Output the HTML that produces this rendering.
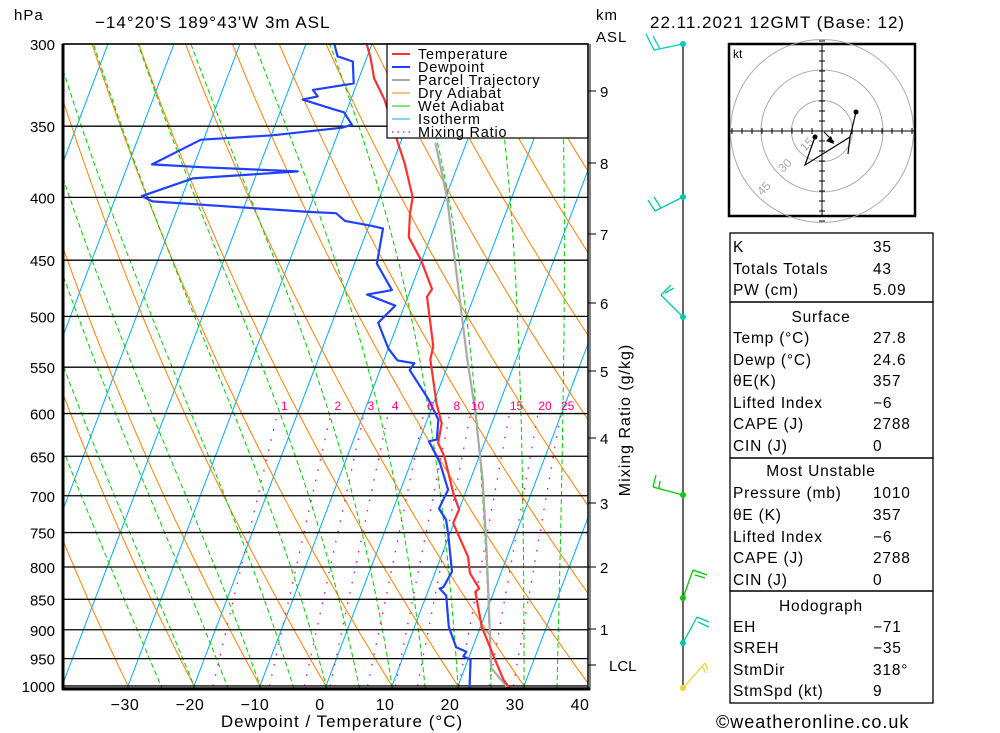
<!DOCTYPE html>
<html><head><meta charset="utf-8"><style>
html,body{margin:0;padding:0;background:#fff;}
svg{display:block;font-family:"Liberation Sans",sans-serif;}
</style></head><body>
<svg id="chart" width="1000" height="733" viewBox="0 0 1000 733" xmlns="http://www.w3.org/2000/svg">
<defs><clipPath id="plotclip"><rect x="63" y="44" width="525" height="644"/></clipPath></defs>
<rect x="0" y="0" width="1000" height="733" fill="#fff"/>
<g id="bg" clip-path="url(#plotclip)"></g>
<g id="isobars"></g>
<g id="profiles" clip-path="url(#plotclip)"></g>
<g id="legend">
<rect x="387" y="44" width="201" height="94" fill="#fff" stroke="#000" stroke-width="1.2"/>
<g font-size="14.5" fill="#000" letter-spacing="0.8">
<line x1="392" y1="54" x2="410" y2="54" stroke="#ff3030" stroke-width="2"/><text x="418" y="59">Temperature</text>
<line x1="392" y1="67" x2="410" y2="67" stroke="#2040ff" stroke-width="2"/><text x="418" y="72">Dewpoint</text>
<line x1="392" y1="80" x2="410" y2="80" stroke="#aaa" stroke-width="2"/><text x="418" y="85">Parcel Trajectory</text>
<line x1="392" y1="93" x2="410" y2="93" stroke="#ff8000" stroke-width="1"/><text x="418" y="98">Dry Adiabat</text>
<line x1="392" y1="106" x2="410" y2="106" stroke="#00cc00" stroke-width="1"/><text x="418" y="111">Wet Adiabat</text>
<line x1="392" y1="119" x2="410" y2="119" stroke="#00aaff" stroke-width="1"/><text x="418" y="124">Isotherm</text>
<line x1="392" y1="132" x2="410" y2="132" stroke="#ff0080" stroke-width="1.2" stroke-dasharray="1.5,4"/><text x="418" y="137">Mixing Ratio</text>
</g></g>
<rect x="63" y="44" width="525" height="644" fill="none" stroke="#000" stroke-width="1.5"/>
<line x1="63" y1="44" x2="63" y2="690" stroke="#000" stroke-width="3"/>
<line x1="62" y1="689" x2="590" y2="689" stroke="#000" stroke-width="3"/>
<g font-size="17" fill="#000" letter-spacing="1">
<text x="14" y="20" font-size="15">hPa</text>
<text x="95" y="28">−14°20'S  189°43'W  3m  ASL</text>
<text x="650" y="28">22.11.2021  12GMT  (Base: 12)</text>
<text x="596" y="20" font-size="15">km</text>
<text x="596" y="42" font-size="15">ASL</text>
<text x="342" y="727" text-anchor="middle">Dewpoint / Temperature (°C)</text>
<text transform="translate(630,420) rotate(-90)" text-anchor="middle" font-size="16">Mixing Ratio (g/kg)</text>
<text x="716" y="728" font-size="18">©weatheronline.co.uk</text>
</g>
<g id="xticks" font-size="16" fill="#000" text-anchor="middle" letter-spacing="0.5"></g>
<g id="kmaxis" font-size="15" fill="#000"></g>
<g id="winds"><line x1="683" y1="44" x2="683" y2="690" stroke="#000" stroke-width="1.2"/></g>
<g id="hodo">
<rect x="729" y="44" width="186" height="172" fill="#fff" stroke="#000" stroke-width="2.5"/>
<text x="733" y="58" font-size="12" fill="#000">kt</text>
</g>
<g id="table" font-size="15.5" fill="#000" letter-spacing="0.8"></g>
</svg>
<script>
const NS="http://www.w3.org/2000/svg";
// ---- data ----
const isobarLevels=[300,350,400,450,500,550,600,650,700,750,800,850,900,950,1000];
const tempTicks=[-30,-20,-10,0,10,20,30,40];
const tempP=[1005,988,946,895,838,833,809,785,737,718,698,650,634,611,589,542,529,482,475,450,431,412,400,375,361,333,320,308,300];
const tempT=[28.0,26.5,23.7,20.2,17.2,17.6,15.3,14.1,9.9,10.0,8.3,4.7,3.0,2.4,0.5,-3.0,-3.3,-7.1,-6.8,-10.1,-13.3,-14.5,-15.0,-18.2,-20.4,-24.9,-27.7,-29.4,-30.8];
const dewP=[1005,1005,952,946,938,930,895,844,833,831,807,751,732,717,692,658,632,630,607,584,553,546,543,542,531,506,490,480,476,453,424,422,418,412,411,403,399,386,381,378,376,359,356,351,349,341,339,333,331,327,323,310,307,300];
const dewT=[24.6,21.9,20.4,19.1,19.3,17.5,15.2,13.0,11.6,12.1,12.5,9.7,8.6,6.9,7.2,4.4,1.5,2.6,1.7,-1.0,-5.5,-5.2,-7.9,-8.1,-10.0,-13.0,-11.4,-16.3,-12.8,-16.6,-17.7,-19.5,-23.9,-25.7,-30.0,-54.2,-56.1,-49.4,-33.9,-48.7,-56.4,-50.4,-39.8,-29.7,-28.4,-30.3,-32.1,-37.3,-35.2,-36.3,-30.5,-31.9,-34.5,-35.7];
const parcelP=[1005,967,906,775,680,596,542,400,361];
const parcelT=[27.8,24.0,21.8,16.5,11.9,6.7,2.6,-9.8,-14.7];
const mixRatios=[1,2,3,4,6,8,10,15,20,25];
const kmLevels=[1,2,3,4,5,6,7,8,9];
const kmY=[629,567,503,438,371,303,234,163,91];
// ---- axes ----
function yP(p){return 44+Math.log(p/300)*533.2;}
function xT(T,p){return 326+6.6*T+0.38*(686-yP(p));}
function el(tag,attrs,parent){const e=document.createElementNS(NS,tag);for(const k in attrs)e.setAttribute(k,attrs[k]);parent.appendChild(e);return e;}
function pts(ps,ts){return ps.map((p,i)=>xT(ts[i],p).toFixed(1)+","+yP(p).toFixed(1)).join(" ");}
const bg=document.getElementById('bg');
// isotherms
for(let T=-120;T<=40;T+=10){
  const l=el('line',{x1:xT(T,1050),y1:yP(1050),x2:xT(T,280),y2:yP(280),stroke:'#00aaff','stroke-width':1},bg);
  
  
}
// dry adiabats
const pgrid=[];for(let p=1050;p>=280;p-=10)pgrid.push(p);
for(let t0=-80;t0<=180;t0+=10){
  const th=t0+273.15;
  const ts=pgrid.map(p=>th*Math.pow(p/1000,0.2857)-273.15);
  const l=el('polyline',{points:pts(pgrid,ts),fill:'none',stroke:'#ff8000','stroke-width':1},bg);
  
  
}
// wet adiabats
function moist(T,p){const tc=T-273.15;const es=6.112*Math.exp(17.67*tc/(tc+243.5));const rs=0.622*es/(p-es);
 return (287*T+2.5e6*rs)/(p*(1005+2.5e6*2.5e6*rs*0.622/(287*T*T)));}
for(let tw=-25;tw<=35;tw+=5){
  let T=tw+273.15;const ps=[],ts=[];
  for(let p=1050;p>=1000;p+=0){break;}
  // integrate down to 1050 first
  let Tb=T;for(let p=1000;p<1050;p+=2){Tb+=moist(Tb,p)*2;}
  T=Tb;
  for(let p=1050;p>=280;p-=2){ps.push(p);ts.push(T-273.15);T-=moist(T,p)*2;}
  const l=el('polyline',{points:pts(ps,ts),fill:'none',stroke:'#00cc00','stroke-width':1,'stroke-dasharray':'5,3'},bg);
  
  
}
// mixing ratio
function tw_(w,p){const e=w*p/(622+w);const a=Math.log(e/6.112);return 243.5*a/(17.67-a);}
mixRatios.forEach(w=>{
  const ps=[1000,600];const ts=ps.map(p=>tw_(w,p));
  const l=el('polyline',{points:pts(ps,ts),fill:'none',stroke:'#ff0080','stroke-width':1.3,'stroke-dasharray':'1.5,9'},bg);
  
  
  const t=el('text',{x:xT(tw_(w,600),600)+7,y:410,'font-size':12,fill:'#ff0080','text-anchor':'middle'},document.getElementById('svgroot')||document.getElementById('chart'));
  t.textContent=w;
  
  
});
// isobars
const ib=document.getElementById('isobars');
isobarLevels.forEach(p=>{
  const l=el('line',{x1:63,y1:yP(p),x2:588,y2:yP(p),stroke:'#000','stroke-width':1.3},ib);
  
  
  const t=el('text',{x:55,y:yP(p)+6,'font-size':15,'text-anchor':'end',fill:'#000'},ib);
  t.textContent=p;
  
  
});
// x ticks
const xt=document.getElementById('xticks');
tempTicks.forEach(T=>{
  const t=el('text',{x:320+T*6.5,y:710},xt);
  t.textContent=T<0?'−'+(-T):T;
  
  
});
// km axis
const ka=document.getElementById('kmaxis');
el('line',{x1:590,y1:44,x2:590,y2:690,stroke:'#000','stroke-width':1},ka);
kmLevels.forEach((k,i)=>{
  el('line',{x1:588,y1:kmY[i],x2:596,y2:kmY[i],stroke:'#000','stroke-width':1},ka);
  const t=el('text',{x:600,y:kmY[i]+6},ka);t.textContent=k;
  
  
});
el('line',{x1:588,y1:665,x2:596,y2:665,stroke:'#000','stroke-width':1},ka);
{const t=el('text',{x:609,y:671},ka);t.textContent='LCL';}
// profiles
const pr=document.getElementById('profiles');
[[parcelP,parcelT,'#aaaaaa','parcel-trajectory'],[tempP,tempT,'#ff3030','temperature-line'],[dewP,dewT,'#2040ff','dewpoint-line']].forEach(a=>{
  const l=el('polyline',{points:pts(a[0],a[1]),fill:'none',stroke:a[2],'stroke-width':2.2,'stroke-linejoin':'round'},pr);
  
  
});
// wind barbs
const wd=document.getElementById('winds');
const barbs=[[44,'#00c8c8',[[654,50]],[[654,50,646,34],[660,49,653,36]]],
 [197,'#00c8a0',[[655,211]],[[655,211,648,200],[661,208,654,197]]],
 [317,'#00c8a0',[[661,295]],[[661,295,671,285],[665,293,674,288]]],
 [495,'#00c800',[[653,487]],[[653,487,656,475],[659,488,660,481]]],
 [598,'#00c800',[[693,570]],[[693,570,707,575],[695,575,705,578]]],
 [643,'#00c8a0',[[697,617]],[[697,617,709,622],[698,622,709,627]]],
 [688,'#e8d830',[[705,663]],[[705,663,708,670],[702,666,706,673]]]];
barbs.forEach(b=>{
  const g=el('g',{stroke:b[1],'stroke-width':1.3,fill:'none'},wd);
  
  
  el('line',{x1:683,y1:b[0],x2:b[2][0][0],y2:b[2][0][1]},g);
  b[3].forEach(s=>el('line',{x1:s[0],y1:s[1],x2:s[2],y2:s[3]},g));
  el('circle',{cx:683,cy:b[0],r:3,fill:b[1],stroke:'none'},g);
});
// hodograph
const hd=document.getElementById('hodo');
const cx=822,cy=131;
[30.5,61,91.5].forEach(r=>el('circle',{cx:cx,cy:cy,r:r,fill:'none',stroke:'#aaa','stroke-width':1},hd));
el('line',{x1:730,y1:cy,x2:914,y2:cy,stroke:'#000','stroke-width':1},hd);
el('line',{x1:cx,y1:45,x2:cx,y2:215,stroke:'#000','stroke-width':1},hd);
for(let d=-90;d<=90;d+=10){if(d){el('line',{x1:cx+d,y1:cy-3,x2:cx+d,y2:cy+3,stroke:'#000'},hd);el('line',{x1:cx-3,y1:cy+d,x2:cx+3,y2:cy+d,stroke:'#000'},hd);}}
[['15',805,152],['30',783,173],['45',762,196]].forEach(a=>{const t=el('text',{x:a[1],y:a[2],'font-size':12,fill:'#aaa',transform:`rotate(-45 ${a[1]} ${a[2]})`},hd);t.textContent=a[0];});
el('polyline',{points:'815,137 805,165 850,137 856,112',fill:'none',stroke:'#000','stroke-width':1.2},hd);
el('line',{x1:850,y1:137,x2:848,y2:154,stroke:'#000','stroke-width':1.2},hd);
el('line',{x1:824,y1:132,x2:834,y2:142,stroke:'#000','stroke-width':1.2},hd);
el('polygon',{points:'834,144 826,141 831,136',fill:'#000'},hd);
el('circle',{cx:815,cy:137,r:2.5,fill:'#000'},hd);
el('circle',{cx:856,cy:112,r:2.5,fill:'#000'},hd);
// table
const tb=document.getElementById('table');
[[233,302],[302,458],[458,591],[591,703]].forEach(s=>el('rect',{x:730,y:s[0],width:203,height:s[1]-s[0],fill:'none',stroke:'#000','stroke-width':1.3},tb));
const rows=[['K','35',246],['Totals Totals','43',268],['PW (cm)','5.09',289],['Temp (°C)','27.8',337],['Dewp (°C)','24.6',359],['θE(K)','357',380],['Lifted Index','−6',402],['CAPE (J)','2788',423],['CIN (J)','0',445],
['Pressure (mb)','1010',492],['θE (K)','357',514],['Lifted Index','−6',536],['CAPE (J)','2788',557],['CIN (J)','0',579],['EH','−71',626],['SREH','−35',647],['StmDir','318°',669],['StmSpd (kt)','9',690]];
rows.forEach(r=>{
  const a=el('text',{x:733,y:r[2]+6},tb);a.textContent=r[0];
  
  
  const b=el('text',{x:873,y:r[2]+6},tb);b.textContent=r[1];
  
  
});
[['Surface',316],['Most Unstable',470],['Hodograph',605]].forEach(h=>{
  const t=el('text',{x:821,y:h[1]+6,'text-anchor':'middle'},tb);t.textContent=h[0];
  
  
});
</script>
</body></html>
